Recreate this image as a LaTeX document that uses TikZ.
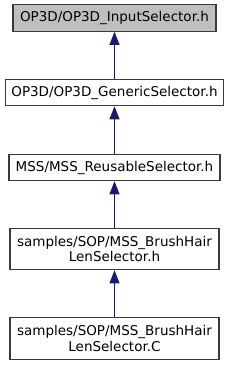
\documentclass[tikz,border=0pt]{standalone}
\usepackage{fontspec}
\setmainfont{DejaVu Sans}
\usetikzlibrary{arrows.meta}

\begin{document}
\begin{tikzpicture}[
    x=1pt, y=-1pt,
    every node/.style={font=\fontsize{13.5}{15.5}\selectfont},
]

% ---------------------------------------------------------------- colours
\definecolor{boxline}{HTML}{3A3A3A}   % the file boxes
\definecolor{current}{HTML}{BFBFBF}   % the file this graph is about
\definecolor{incl}{HTML}{191970}      % the include edges

% ================================================================
% Layout in pixels of the 229 x 365 target, y grows downwards.
%
%   one column, centres at x = 114.5
%   one-line boxes 26.5 high, two-line boxes 41.5 high
%   edges go up the middle, tip on the bottom of the upper box
% ================================================================

\useasboundingbox (0,0) rectangle (229,365);

\tikzset{
    filebox/.style={
        draw=boxline, line width=1.1pt, fill=white,
        inner sep=0pt, align=center,
        minimum height=26.5pt,
    },
    twoline/.style={minimum height=41.5pt},
    includes/.style={
        draw=incl, line width=1pt,
        -{Triangle[length=13pt, width=10pt]},
    },
}

% ---------------------------------------------------------------- the files
\node[filebox, fill=current, minimum width=203pt] (b1) at (114.5, 18)
    {OP3D/OP3D\_InputSelector.h};
\node[filebox, minimum width=218.5pt] (b2) at (114.5, 92.5)
    {OP3D/OP3D\_GenericSelector.h};
\node[filebox, minimum width=211pt] (b3) at (114.5, 167.5)
    {MSS/MSS\_ReusableSelector.h};
\node[filebox, twoline, minimum width=209pt] (b4) at (114.5, 249)
    {samples/SOP/MSS\_BrushHair\\LenSelector.h};
\node[filebox, twoline, minimum width=209pt] (b5) at (114.5, 338.5)
    {samples/SOP/MSS\_BrushHair\\LenSelector.C};

% ---------------------------------------------------------------- the edges
\foreach \a/\b in {b2/b1, b3/b2, b4/b3, b5/b4} {
    \draw[includes] (\a) -- (\b);
}

\end{tikzpicture}
\end{document}
